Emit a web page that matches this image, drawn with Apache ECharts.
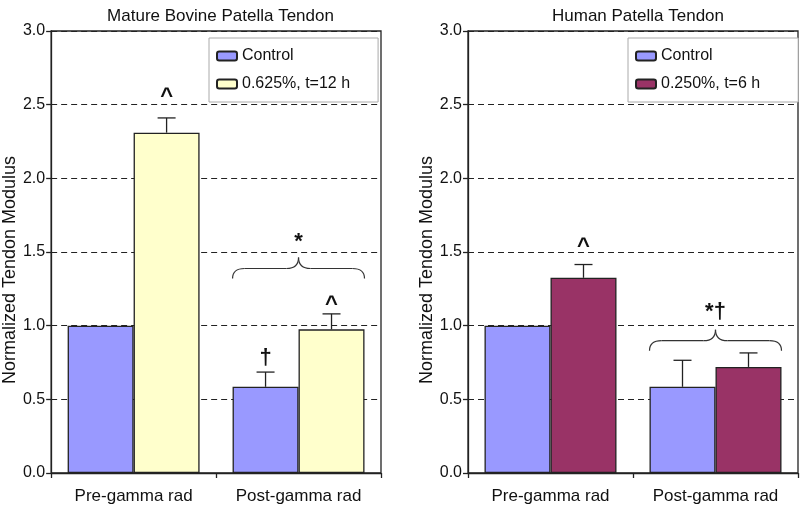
<!DOCTYPE html>
<html><head><meta charset="utf-8">
<script src="https://cdn.jsdelivr.net/npm/echarts@6/dist/echarts.min.js"></script>
<style>html,body{margin:0;padding:0;background:#fff}#c{width:800px;height:509px}</style>
</head><body><div id="c"></div>
<script>
// ---- data ----
const categories = ['Pre-gamma rad', 'Post-gamma rad'];
const yTicks = [0, 0.5, 1.0, 1.5, 2.0, 2.5, 3.0];
const panelTitles = ['Mature Bovine Patella Tendon', 'Human Patella Tendon'];
const yAxisName = 'Normalized Tendon Modulus';

const bovineControl = [1.0, 0.585];
const bovineControlErr = [null, 0.685];
const bovineTreatName = '0.625%, t=12 h';
const bovineTreat = [2.31, 0.975];
const bovineTreatErr = [2.41, 1.08];

const humanControl = [1.0, 0.585];
const humanControlErr = [null, 0.765];
const humanTreatName = '0.250%, t=6 h';
const humanTreat = [1.325, 0.72];
const humanTreatErr = [1.415, 0.815];

// annotations: [categoryIndex, bar (-1 control, 1 treated, 0 group), y, text]
const bovineMarks = [[0, 1, 2.55, '^'], [1, 0, 1.57, '*'], [1, -1, 0.78, '†'], [1, 1, 1.14, '^']];
const humanMarks = [[0, 1, 1.535, '^'], [1, 0, 1.09, '*†']];
// braces: [categoryIndex, base y]
const bovineBraces = [[1, 1.32]];
const humanBraces = [[1, 0.83]];

const FONT = "'Liberation Sans', Arial, sans-serif";
const C_CTRL = '#9999FF', C_YEL = '#FFFFCC', C_MAR = '#993366', EDGE = '#222';

const grids = [
  {left: 50, top: 31, width: 331, height: 442},
  {left: 468, top: 31, width: 330, height: 442}
];

function xAxisFor(i){
  return {type:'category', gridIndex:i, data:categories,
    axisLine:{lineStyle:{color:EDGE,width:1.3}},
    axisTick:{show:true,length:5,lineStyle:{color:EDGE,width:1.3}},
    axisLabel:{fontFamily:FONT,fontSize:17,color:'#111',margin:15}};
}
function yAxisFor(i){
  return {type:'value', gridIndex:i, min:0, max:3, interval:0.5,
    name:yAxisName, nameLocation:'middle', nameGap:32,
    nameTextStyle:{fontFamily:FONT,fontSize:18,color:'#111',padding:[0,36,0,0]},
    axisLine:{show:true,lineStyle:{color:EDGE,width:1.3}},
    axisTick:{show:true,length:5,lineStyle:{color:EDGE,width:1.3}},
    axisLabel:{fontFamily:FONT,fontSize:16,color:'#111',margin:6,formatter:v=>v.toFixed(1)},
    splitLine:{show:true,lineStyle:{color:'#222',type:[6,4],width:1}}};
}
function barSeries(name, data, color, gi){
  return {type:'bar', name, data, xAxisIndex:gi, yAxisIndex:gi,
    barGap:'0%', barCategoryGap:'20%',
    itemStyle:{color, borderColor:EDGE, borderWidth:1.3}, z:2};
}
function errSeries(vals, errs, side, gi){
  const d = [];
  vals.forEach((v,k)=>{ if(errs[k]!=null) d.push([k, v, errs[k]]); });
  return {type:'custom', xAxisIndex:gi, yAxisIndex:gi, z:3, silent:true,
    data:d,
    renderItem:(params, api)=>{
      const bw = api.size([1,0])[0];
      const p1 = api.coord([api.value(0), api.value(1)]);
      const p2 = api.coord([api.value(0), api.value(2)]);
      const x = p1[0] + side*0.2*bw;
      const cap = 9;
      const st = {stroke:EDGE, lineWidth:1.3};
      return {type:'group', children:[
        {type:'line', shape:{x1:x,y1:p1[1],x2:x,y2:p2[1]}, style:st},
        {type:'line', shape:{x1:x-cap,y1:p2[1],x2:x+cap,y2:p2[1]}, style:st}
      ]};
    }};
}
function markSeries(marks, gi){
  return {type:'custom', xAxisIndex:gi, yAxisIndex:gi, z:4, silent:true,
    data:marks.map(m=>[m[0], m[1], m[2], m[3]]),
    renderItem:(params, api)=>{
      const bw = api.size([1,0])[0];
      const p = api.coord([api.value(0), api.value(2)]);
      return {type:'text', style:{text:marks[params.dataIndex][3], x:p[0]+api.value(1)*0.2*bw, y:p[1],
        align:'center', verticalAlign:'middle', font:"bold 22px "+FONT, fill:'#111'}};
    }};
}
function braceSeries(braces, gi){
  return {type:'custom', xAxisIndex:gi, yAxisIndex:gi, z:4, silent:true,
    data:braces,
    renderItem:(params, api)=>{
      const bw = api.size([1,0])[0];
      const p = api.coord([api.value(0), api.value(1)]);
      const xc = p[0], x0 = xc-0.4*bw, x1 = xc+0.4*bw;
      const yb = p[1], ym = yb-10, yt = yb-21, r = 12;
      const st = {stroke:'#333', lineWidth:1.2, fill:null};
      return {type:'group', children:[
        {type:'bezierCurve', shape:{x1:x0,y1:yb,cpx1:x0,cpy1:ym,x2:x0+r,y2:ym}, style:st},
        {type:'line', shape:{x1:x0+r,y1:ym,x2:xc-r,y2:ym}, style:st},
        {type:'bezierCurve', shape:{x1:xc-r,y1:ym,cpx1:xc,cpy1:ym,x2:xc,y2:yt}, style:st},
        {type:'bezierCurve', shape:{x1:xc,y1:yt,cpx1:xc,cpy1:ym,x2:xc+r,y2:ym}, style:st},
        {type:'line', shape:{x1:xc+r,y1:ym,x2:x1-r,y2:ym}, style:st},
        {type:'bezierCurve', shape:{x1:x1-r,y1:ym,cpx1:x1,cpy1:ym,x2:x1,y2:yb}, style:st}
      ]};
    }};
}
function legendFor(names, left, padRight){
  return {orient:'vertical', left, top:38, data:names, itemWidth:20, itemHeight:9, itemGap:12,
    padding:[10,padRight,10,7], borderColor:'#aaa', borderWidth:1, backgroundColor:'#fff',
    selectedMode:false, textStyle:{fontFamily:FONT,fontSize:16,color:'#111'}, z:10};
}

const option = {
  animation:false,
  title: panelTitles.map((t,i)=>({text:t, left: (i===0? 215.5 : 633), top:3, textAlign:'center',
    textStyle:{fontFamily:FONT,fontSize:17,fontWeight:'normal',color:'#111'}})),
  legend:[legendFor(['Control', bovineTreatName], 209, 28), legendFor(['Control', humanTreatName], 628, 38)],
  grid: grids.map(g=>Object.assign({show:true, borderColor:EDGE, borderWidth:1.3, backgroundColor:'transparent'}, g)),
  xAxis:[xAxisFor(0), xAxisFor(1)],
  yAxis:[yAxisFor(0), yAxisFor(1)],
  series:[
    barSeries('Control', bovineControl, C_CTRL, 0),
    barSeries(bovineTreatName, bovineTreat, C_YEL, 0),
    barSeries('Control', humanControl, C_CTRL, 1),
    barSeries(humanTreatName, humanTreat, C_MAR, 1),
    errSeries(bovineControl, bovineControlErr, -1, 0),
    errSeries(bovineTreat, bovineTreatErr, 1, 0),
    errSeries(humanControl, humanControlErr, -1, 1),
    errSeries(humanTreat, humanTreatErr, 1, 1),
    markSeries(bovineMarks, 0),
    markSeries(humanMarks, 1),
    braceSeries(bovineBraces, 0),
    braceSeries(humanBraces, 1)
  ]
};
const chart = echarts.init(document.getElementById('c'), null, {renderer:'canvas'});
chart.setOption(option);
</script></body></html>
